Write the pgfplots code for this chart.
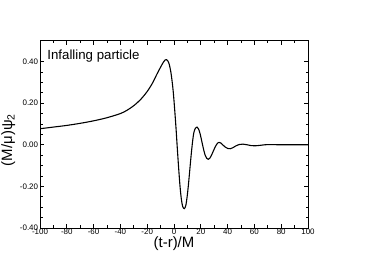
\documentclass[border=0pt]{standalone}
\usepackage{fontspec}
\setmainfont{Liberation Sans}
\usepackage{pgfplots}
\pgfplotsset{compat=1.18}
\begin{document}
\begin{tikzpicture}
\path[use as bounding box] (0,0) rectangle (369bp,261bp);
\begin{axis}[
  at={(40bp,33bp)}, anchor=south west,
  scale only axis, width=268bp, height=187.3bp,
  xmin=-100, xmax=100, ymin=-0.4, ymax=0.5,
  xtick={-100,-80,...,100},
  xticklabels={-100,-80,-60,-40,-20,0,20,40,60,80,100},
  minor x tick num=1,
  ytick={-0.4,-0.2,0,0.2,0.4},
  yticklabels={-0.40,-0.20,0.00,0.20,0.40},
  minor y tick num=3,
  tick align=inside,
  major tick length=4bp, minor tick length=2.5bp,
  tick style={black, line width=0.7pt},
  axis line style={line width=0.8pt},
  ticklabel style={font=\fontsize{8}{9}\selectfont},
  xticklabel style={inner sep=0.5pt, yshift=-0.7bp},
  yticklabel style={inner sep=0.5pt, xshift=-1.2bp},
  xlabel={(t-r)/M},
  ylabel={(M/μ)ψ\textsubscript{2}},
  label style={font=\fontsize{15}{17}\selectfont},
  xlabel style={inner sep=1pt, at={(axis description cs:0.5,-0.082)}, anchor=center},
  ylabel style={at={(axis description cs:-0.118,0.47)}, anchor=center},
]
\addplot[black, line width=1.1pt, smooth, tension=0.5] coordinates {
(-100,0.077) (-90,0.085) (-80,0.093) (-70,0.103) (-60,0.115) (-50,0.130)
(-40,0.150) (-35,0.166) (-30,0.188) (-25,0.217) (-20,0.256) (-16,0.297)
(-13,0.336) (-10,0.373) (-8,0.396) (-6.5,0.408) (-5.5,0.409) (-4.5,0.402)
(-3.5,0.385) (-2.5,0.355) (-1.5,0.31) (-0.5,0.25) (0.5,0.17) (1.5,0.08)
(2.5,-0.02) (3.5,-0.115) (4.5,-0.2) (5.5,-0.262) (6.5,-0.297) (7.7,-0.307)
(8.8,-0.292) (9.8,-0.25) (10.8,-0.19) (11.8,-0.12) (12.8,-0.05) (13.8,0.012)
(14.8,0.058) (16,0.08) (17.2,0.085) (18.3,0.076) (19.3,0.057) (20.3,0.03)
(21.3,0.0) (22.3,-0.028) (23.3,-0.051) (24.4,-0.065) (25.6,-0.070) (26.8,-0.064)
(28.2,-0.047) (29.7,-0.025) (31.2,-0.005) (32.5,0.008) (33.6,0.0115) (34.8,0.009)
(36.3,0.0) (38.2,-0.011) (40.2,-0.018) (42,-0.019) (44,-0.014) (46,-0.006)
(48.5,0.001) (51.5,0.003) (54.5,0.0) (57.5,-0.004) (60.5,-0.005) (64,-0.003)
(68,0.0) (72,0.001) (78,0.0) (85,0.0) (100,0.0)
};
\node[anchor=base west, inner sep=0pt, font=\fontsize{13.3}{15}\selectfont] at (axis cs:-94.6,0.411) {Infalling particle};
\end{axis}
\end{tikzpicture}
\end{document}
